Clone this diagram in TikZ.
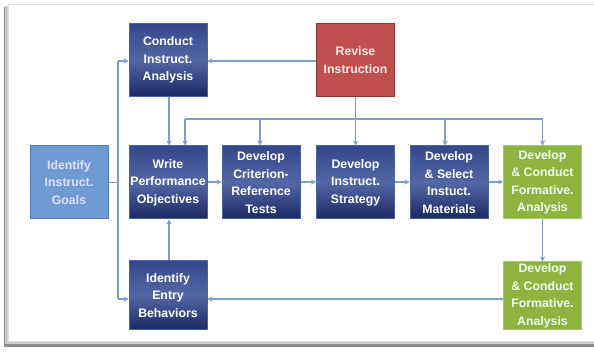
\documentclass[tikz,border=0pt]{standalone}
\usepackage{fontspec}
\setmainfont{Liberation Sans}
\usetikzlibrary{arrows.meta,shadows}
\definecolor{navyout}{HTML}{1B2862}
\definecolor{navytop}{HTML}{34488A}
\definecolor{navyin}{HTML}{5268A4}
\definecolor{navyedge}{HTML}{4A64A2}
\definecolor{redfill}{HTML}{C0504D}
\definecolor{rededge}{HTML}{8C3836}
\definecolor{greenfill}{HTML}{8DB43E}
\definecolor{greenedge}{HTML}{A9C86A}
\definecolor{lightblue}{HTML}{6F9BD2}
\definecolor{lightedge}{HTML}{4F7DBA}
\definecolor{linkcol}{HTML}{7F9DCB}
\tikzset{
  base/.style={minimum width=78pt, minimum height=73pt, inner sep=0pt, align=center,
    text=white, font=\fontsize{12.3}{17.5}\selectfont\bfseries, line width=1pt},
  navybox/.style={base, draw=navyedge, top color=navytop, bottom color=navyout,
    middle color=navyin},
  redbox/.style={base, draw=rededge, fill=redfill, text=white!92!red},
  greenbox/.style={base, draw=greenedge, fill=greenfill, text=white!94!green},
  goalbox/.style={base, draw=lightedge, fill=lightblue, text=white!88!blue},
  link/.style={draw=linkcol, line width=1.1pt},
  arr/.style={link, -{Stealth[length=5pt,width=5pt]}}
}
\begin{document}
\begin{tikzpicture}[x=1pt,y=-1pt]
\useasboundingbox (0,0) rectangle (594,352);
\fill[white] (0,0) rectangle (594,352);
% frame with shadow
\fill[black!45] (4,7) rectangle (594,347);
\fill[black!20] (5,6) rectangle (594,344);
\fill[white] (8,4) rectangle (594,341);
\draw[black!12] (8,4) rectangle (594,341);

\node[navybox] (conduct) at (168,60) {Conduct\\Instruct.\\Analysis};
\node[redbox] (revise) at (355.5,60) {Revise\\Instruction};
\node[goalbox] (goals) at (69,182.5) {Identify\\Instruct.\\Goals};
\node[navybox] (write) at (168,182.5) {Write\\Performance\\Objectives};
\node[navybox] (crit) at (261,182.5) {Develop\\Criterion-\\Reference\\Tests};
\node[navybox] (strat) at (355.5,182.5) {Develop\\Instruct.\\Strategy};
\node[navybox] (mat) at (449,182.5) {Develop\\\& Select\\Instuct.\\Materials};
\node[greenbox] (form1) at (542.5,182.5) {Develop\\\& Conduct\\Formative.\\Analysis};
\node[navybox, minimum height=69pt] (entry) at (168,295.5) {Identify\\Entry\\Behaviors};
\node[greenbox, minimum height=68pt] (form2) at (542.5,296) {Develop\\\& Conduct\\Formative.\\Analysis};

% coordinates for the bus lines
\coordinate (gx) at (118,182.5);
\coordinate (gtop) at (118,61);
\coordinate (gbot) at (118,299);
\coordinate (bus) at (355.5,119);
\coordinate (busl) at (185,119);
\coordinate (busr) at (542.5,119);

% revise -> conduct
\draw[arr] (revise.west |- 0,61) -- (conduct.east |- 0,61);
% goals fan
\draw[link] (goals.east |- gx) -- (gx);
\draw[link] (gtop) -- (gbot);
\draw[arr] (gtop) -- (conduct.west |- gtop);
\draw[arr] (gbot) -- (entry.west |- gbot);
% conduct -> write
\draw[arr] (conduct.south -| 169,0) -- (write.north -| 169,0);
% revise bus
\draw[link] (revise.south) -- (bus);
\draw[link] (busl) -- (busr);
\draw[arr] (busl) -- (write.north -| busl);
\draw[arr] (260,119) -- (crit.north -| 260,0);
\draw[arr] (bus) -- (strat.north);
\draw[arr] (445,119) -- (mat.north -| 445,0);
\draw[arr] (busr) -- (form1.north -| busr);
% chain
\draw[arr] (write.east |- 0,182) -- (crit.west |- 0,182);
\draw[arr] (crit.east |- 0,182) -- (strat.west |- 0,182);
\draw[arr] (strat.east |- 0,182) -- (mat.west |- 0,182);
\draw[arr] (mat.east |- 0,182) -- (form1.west |- 0,182);
% formative down
\draw[arr] (form1.south) -- (form2.north);
% entry -> write
\draw[arr] (entry.north -| 169,0) -- (write.south -| 169,0);
% form2 -> entry
\draw[arr] (form2.west |- 0,299) -- (entry.east |- 0,299);
\end{tikzpicture}
\end{document}
